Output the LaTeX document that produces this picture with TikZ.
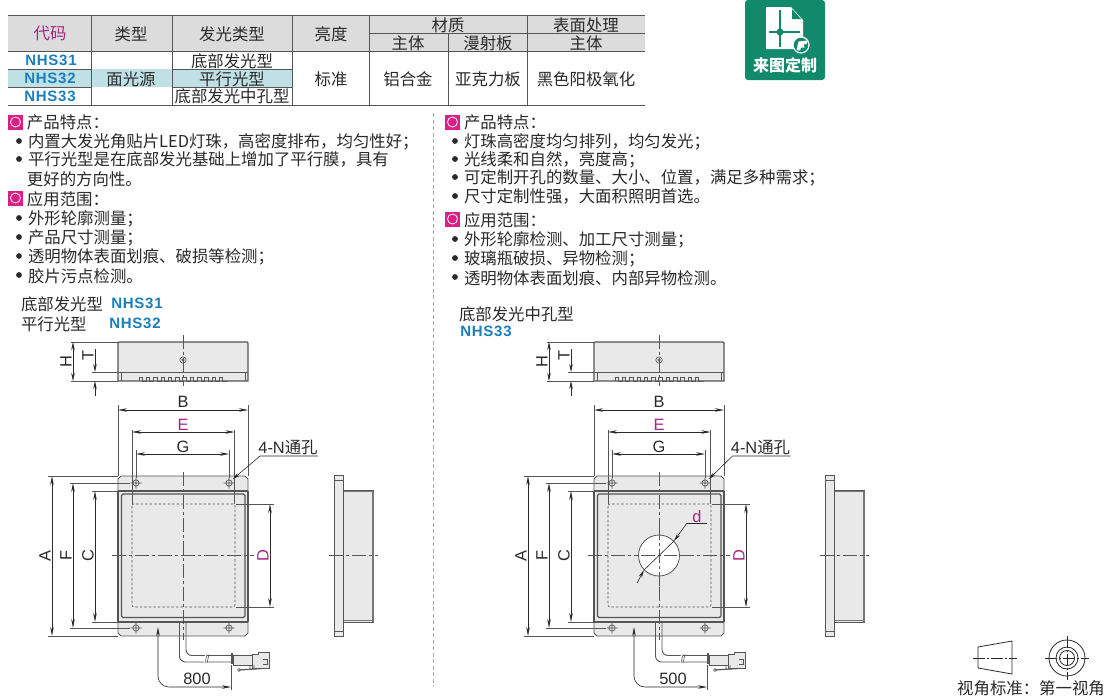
\documentclass[tikz,border=0pt]{standalone}
\usepackage{fontspec}
\usetikzlibrary{arrows.meta}
\setmainfont{Noto Sans CJK SC}
\newfontfamily\latfont{Liberation Sans}
\newfontfamily\nhsfont[LetterSpace=5]{Liberation Sans}
\definecolor{lineg}{HTML}{555555}
\definecolor{headg}{HTML}{DCDCDC}
\definecolor{teal1}{HTML}{BFE0E5}
\definecolor{purp}{HTML}{A3287F}
\definecolor{nhsb}{HTML}{1B7FBE}
\definecolor{panel}{HTML}{E9E9EA}
\definecolor{badge}{HTML}{12896B}
\definecolor{pinkq}{HTML}{DB1F86}
\definecolor{txtc}{HTML}{2A2A2A}
\newcounter{tn}
\newcommand{\TT}[4][]{\stepcounter{tn}\node[txt,#1] (t\arabic{tn}) at (#2,#3) {#4};}
\newcommand{\LL}[3]{\stepcounter{tn}\node[txt,anchor=west] (t\arabic{tn}) at (#1,#2) {#3};}
\newcommand{\BL}[3]{\fill[txtc] (#1-9,#2) circle (2.9);\LL{#1}{#2}{#3}}
\newcommand{\IC}[3]{\fill[pinkq] (#1,#2-7.5) rectangle ++(15,15);\draw[white,line width=.8pt] (#1+7.5,#2) circle (5);\LL{#1+19}{#2}{#3}}
\newcommand{\NH}[3]{\stepcounter{tn}\node[nhs] (t\arabic{tn}) at (#1,#2) {#3};}
\newcommand{\unitdraw}[4]{%
 % top view
 \draw[part,fill=panel] (118,381) -- (118,343) -- (119,342) -- (247,342) -- (248,343) -- (248,381) -- cycle;
 \draw[thin2,line width=.8pt] (118,372) -- (248,372) (121.5,372) -- (121.5,381) (245,372) -- (245,381);
 \draw[thin2,line width=.8pt] (139,381) foreach \k in {0,...,11} {-- ++(0,-3.8) -- ++(3.5,0) -- ++(0,3.8) -- ++(3.8,0)} -- (227,381);
 \draw[thin2] (183,360) circle (3.2) (183,360) circle (1.3);
 \draw[center] (183,335) -- (183,386);
 % H T
 \draw[thin2] (71,342) -- (118,342) (71,381) -- (118,381) (92,372) -- (118,372);
 \draw[dim,{Stealth[length=8pt,width=3.5pt]}-{Stealth[length=8pt,width=3.5pt]}] (73,342) -- (73,381);
 \draw[dim,-{Stealth[length=8pt,width=3.5pt]}] (95,349) -- (95,372);
 \draw[dim,-{Stealth[length=8pt,width=3.5pt]}] (95,396) -- (95,381);
 \TT[rotate=90]{66}{361}{\latfont H}
 \TT[rotate=90]{88}{355}{\latfont T}
 % plate
 \draw[part,fill=panel,line width=.8pt] (121,476) -- (245,476) -- (248,479) -- (248,633) -- (245,636) -- (121,636) -- (118,633) -- (118,479) -- cycle;
 \draw[lineg,line width=1.6pt] (118,491) -- (248,491) (118,622) -- (248,622) (118,491) -- (118,622) (248,491) -- (248,622);
 \draw[lineg,line width=1.2pt,rounded corners=1.5pt] (121.5,494) rectangle (245,617.5);
 \draw[thin2,dashed,dash pattern=on 2.5pt off 2pt,rounded corners=2pt] (132,504) rectangle (235,607);
 \foreach \hx/\hy in {136/483,229/483,136/628,229/628}{
  \draw[thin2] (\hx,\hy) circle (3.2) (\hx-5.5,\hy) -- (\hx+5.5,\hy) (\hx,\hy-5.5) -- (\hx,\hy+5.5);}
 % dims horizontal
 \draw[thin2] (118,405) -- (118,476) (248,405) -- (248,476) (132,430) -- (132,504) (234.5,430) -- (234.5,504) (136,450) -- (136,478) (229,450) -- (229,478);
 \draw[dim,{Stealth[length=9pt,width=3.5pt]}-{Stealth[length=9pt,width=3.5pt]}] (118,410) -- (248,410);
 \draw[dim,{Stealth[length=9pt,width=3.5pt]}-{Stealth[length=9pt,width=3.5pt]}] (132,432) -- (234.5,432);
 \draw[dim,{Stealth[length=9pt,width=3.5pt]}-{Stealth[length=9pt,width=3.5pt]}] (136,454) -- (229,454);
 \TT{183}{401}{\latfont B}
 \TT[text=purp]{183}{424}{\latfont E}
 \TT{183}{446}{\latfont G}
 \TT{288+#4}{447}{{\latfont 4-N}通孔}
 \draw[dim,-{Stealth[length=7pt,width=3.5pt]}] (318+#4,456) -- (260+#4,456) -- (233,479);
 % dims vertical
 \draw[thin2] (48,476) -- (118,476) (48,636) -- (118,636) (70,483) -- (130,483) (70,628) -- (130,628) (92,491) -- (118,491) (92,622) -- (118,622) (236,504) -- (274,504) (236,607) -- (274,607);
 \draw[dim,{Stealth[length=9pt,width=3.5pt]}-{Stealth[length=9pt,width=3.5pt]}] (52,476) -- (52,636);
 \draw[dim,{Stealth[length=9pt,width=3.5pt]}-{Stealth[length=9pt,width=3.5pt]}] (73,483) -- (73,628);
 \draw[dim,{Stealth[length=9pt,width=3.5pt]}-{Stealth[length=9pt,width=3.5pt]}] (95,491) -- (95,622);
 \draw[dim,{Stealth[length=9pt,width=3.5pt]}-{Stealth[length=9pt,width=3.5pt]}] (270,504) -- (270,607);
 \TT[rotate=90]{45}{555}{\latfont A}
 \TT[rotate=90]{66}{555}{\latfont F}
 \TT[rotate=90]{88}{555}{\latfont C}
 \TT[rotate=90,text=purp]{263}{555}{\latfont D}
 % center lines
 \draw[center] (183,472) -- (183,640);
 \draw[center] (112,555.5) -- (254,555.5);
 % cable
 \draw[thin2,line width=.9pt,rounded corners=6pt] (179.5,622) -- (179.5,662) -- (231,662);
 \draw[thin2,line width=.9pt,rounded corners=6pt] (186,622) -- (186,655.5) -- (231,655.5);
 \draw[white,line width=2pt] (206,654) -- (205,663);
 \draw[thin2] (207,654.5) -- (205,663) (209,654.5) -- (207,663);
 \fill[lineg] (231,653) rectangle (233,664);
 \draw[part,fill=panel,line width=.7pt] (233,655.5) rectangle (252,665);
 \draw[part,fill=panel,line width=.9pt] (252,654) -- (258,654) -- (258,652.5) -- (269,652.5) -- (269,668) -- (252,668) -- cycle;
 \draw[thin2] (263,659) -- (267,659) -- (267,664) -- (263,664);
 \draw[thin2,line width=1.2pt] (239,670) -- (262,668.5);
 \draw[thin2] (239,670) circle (1.5) (250,665) -- (250,669) (254,665) -- (254,669);
 % length dim
 \draw[thin2] (231,665) -- (231,690);
 \draw[dim,{Stealth[length=9pt,width=3.5pt]}-{Stealth[length=9pt,width=3.5pt]},rounded corners=11pt] (158,627) -- (158,687) -- (231,687);
 \TT{197}{678}{\latfont #1}
 % side view
 \begin{scope}[xshift=#2 pt]
  \draw[thin2,fill=panel,line width=.8pt] (343,490) -- (373,490) -- (373,622) -- (343,622);
  \draw[lineg!80,line width=1.2pt] (373,490.5) -- (373,622) (343,620.5) -- (372,620.5) (343,491.5) -- (372,491.5);
  \draw[part,fill=panel,line width=1pt] (334,475.5) rectangle (343,636);
  \draw[thin2] (334,480) -- (343,480) (334,631) -- (343,631);
  \draw[center] (329,555.5) -- (378,555.5);
 \end{scope}
 #3
}
\tikzset{
 txt/.style={font=\fontsize{16.4}{18}\selectfont,text=txtc,inner sep=0pt,outer sep=0pt,yshift=-.8pt},
 nhs/.style={font=\fontsize{15}{17}\nhsfont\bfseries,text=nhsb,inner sep=0pt,outer sep=0pt},
 part/.style={draw=lineg,line width=1.1pt},
 thin2/.style={draw=lineg,line width=.6pt},
 dim/.style={draw=txtc,line width=.6pt},
 center/.style={draw=lineg,line width=.7pt,dash pattern=on 14pt off 3pt on 3pt off 3pt},
 rowl/.style={draw=lineg,line width=.8pt},
}
\begin{document}
\begin{tikzpicture}[x=1pt,y=-1pt]
\useasboundingbox (0,0) rectangle (1110,699);
\fill[white] (0,0) rectangle (1110,699);
% table
\fill[headg] (8,15) rectangle (645,51);
\fill[teal1] (8,69) rectangle (292,87);
\draw[rowl] (8,15) -- (645,15) (8,51) -- (645,51) (8,105) -- (645,105) (369,33) -- (645,33);
\draw[thin2] (8,69) -- (91,69) (8,87) -- (91,87) (172,69) -- (292,69) (172,87) -- (292,87);
\draw[rowl] (91,15) -- (91,105) (172,15) -- (172,105) (292,15) -- (292,105) (369,15) -- (369,105) (527.5,15) -- (527.5,105) (448,33) -- (448,105);
\TT[text=purp]{50}{33}{代码}
\TT{131}{33}{类型}
\TT{232}{33}{发光类型}
\TT{331}{33}{亮度}
\TT{448}{24}{材质}
\TT{586}{24}{表面处理}
\TT{408}{42}{主体}
\TT{488}{42}{漫射板}
\TT{586}{42}{主体}
\NH{51}{60.5}{NHS31}
\NH{50}{78.5}{NHS32}
\NH{50}{96.5}{NHS33}
\TT{131}{78}{面光源}
\TT{232}{60}{底部发光型}
\TT{232}{78}{平行光型}
\TT{232}{95.5}{底部发光中孔型}
\TT{331}{78}{标准}
\TT{408}{78}{铝合金}
\TT{488}{78}{亚克力板}
\TT{586}{78}{黑色阳极氧化}
% left list
\IC{8}{122}{产品特点：}
\BL{28}{141}{内置大发光角贴片LED灯珠，高密度排布，均匀性好；}
\BL{28}{159}{平行光型是在底部发光基础上增加了平行膜，具有}
\LL{27}{178}{更好的方向性。}
\IC{8}{198}{应用范围：}
\BL{28}{218}{外形轮廓测量；}
\BL{28}{237}{产品尺寸测量；}
\BL{28}{256}{透明物体表面划痕、破损等检测；}
\BL{28}{275}{胶片污点检测。}
% right list
\IC{445}{122}{产品特点：}
\BL{464}{141}{灯珠高密度均匀排列，均匀发光；}
\BL{464}{159}{光线柔和自然，亮度高；}
\BL{464}{177}{可定制开孔的数量、大小、位置，满足多种需求；}
\BL{464}{196}{尺寸定制性强，大面积照明首选。}
\IC{445}{219}{应用范围：}
\BL{464}{239}{外形轮廓检测、加工尺寸测量；}
\BL{464}{258}{玻璃瓶破损、异物检测；}
\BL{464}{277}{透明物体表面划痕、内部异物检测。}
% divider
\draw[lineg!50,line width=.7pt,dash pattern=on 4pt off 2.5pt] (433.5,113) -- (433.5,686);
% badge
\fill[badge,rounded corners=3pt] (745,0) rectangle (825,80);
\fill[white] (766,7) -- (791,7) -- (803,20) -- (803,49) -- (766,49) -- cycle;
\fill[badge] (792,9) -- (801,19) -- (792,19) -- cycle;
\draw[badge,line width=2pt] (780,10) -- (780,47) (769,32) -- (800,32);
\fill[badge] (780,32) circle (3.5);
\draw[white,fill=badge,line width=1.2pt] (801,45) circle (8);
\fill[white] (796.5,50) -- (798.5,41.5) -- (807.5,40.5) -- (806.5,44) -- (803.5,44.5) -- (804.5,47.5) -- (801,47.5) -- (800,50.5) -- cycle;
\stepcounter{tn}\node[inner sep=0pt,text=white,font=\fontsize{16}{18}\selectfont\bfseries] (t\arabic{tn}) at (785,65) {来图定制};
% captions
\LL{21}{303}{底部发光型}
\NH{137}{303}{NHS31}
\LL{21}{323}{平行光型}
\NH{135}{323}{NHS32}
\LL{459}{313}{底部发光中孔型}
\NH{486}{331}{NHS33}
% left unit
\unitdraw{800}{0}{}{0}
% right unit
\begin{scope}[xshift=476pt]
\unitdraw{500}{15}{%
 \fill[white] (183,555.5) circle (20.5);
 \draw[thin2,line width=.8pt] (183,555.5) circle (20.5);
 \draw[center] (183,526) -- (183,590);
 \draw[center] (165,555.5) -- (201,555.5);
 \draw[dim,{Stealth[length=8pt,width=3.5pt]}-] (168,570) -- (161,583);
 \draw[dim] (168,570) -- (198,541);
 \draw[dim,-{Stealth[length=8pt,width=3.5pt]}] (211,523) -- (198,541);
 \draw[dim] (211,523) -- (231,523);
 \TT[text=purp]{221}{516}{\latfont d}
}{-3.5}
\end{scope}
% view symbol
\draw[thin2,line width=.8pt,draw=txtc] (978,647) -- (1012,641) -- (1012,674) -- (978,668) -- cycle;
\draw[center,draw=txtc,dash pattern=on 12pt off 2pt on 2pt off 2pt] (973,658) -- (1017,658);
\draw[thin2,draw=txtc,line width=.8pt] (1067,658) circle (18) (1067,658) circle (11) (1067,658) circle (7.5);
\draw[center,draw=txtc,dash pattern=on 12pt off 2pt on 2pt off 2pt] (1045,658) -- (1089,658) (1067,636) -- (1067,680);
\TT{1031}{687}{视角标准：第一视角}
\end{tikzpicture}
\end{document}
